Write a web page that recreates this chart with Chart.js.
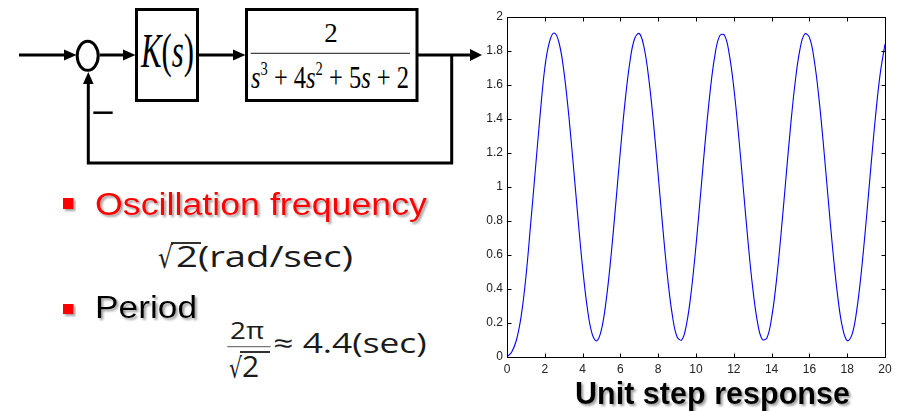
<!DOCTYPE html>
<html>
<head>
<meta charset="utf-8">
<script src="https://cdn.jsdelivr.net/npm/chart.js@4.4.0/dist/chart.umd.min.js"></script>
<style>
  html, body { margin: 0; padding: 0; background: #fff; }
  #slide { position: relative; width: 899px; height: 411px; overflow: hidden; background: #fff; }
  #art { position: absolute; left: 0; top: 0; }
  #plotBox { position: absolute; left: 470px; top: 0; width: 429px; height: 411px; }
</style>
</head>
<body>
<div id="slide">
  <svg id="art" width="899" height="411" xmlns="http://www.w3.org/2000/svg">
    <defs>
      <filter id="shadow" x="-10%" y="-20%" width="130%" height="160%">
        <feDropShadow dx="2" dy="2" stdDeviation="1" flood-color="#777" flood-opacity="0.7"/>
      </filter>
    </defs>

    <!-- block diagram -->
    <g stroke="#000" stroke-width="3" fill="none">
      <line x1="19" y1="55" x2="66" y2="55"/>
      <ellipse cx="87.7" cy="55.8" rx="10.5" ry="14.5"/>
      <line x1="99.7" y1="55" x2="124" y2="55"/>
      <rect x="136.5" y="9.5" width="61" height="91"/>
      <line x1="199" y1="55" x2="234" y2="55"/>
      <rect x="246.5" y="9.5" width="170.5" height="91"/>
      <line x1="418" y1="55" x2="472" y2="55"/>
      <polyline points="451.7,55 451.7,163 88.3,163 88.3,83"/>
    </g>
    <g fill="#000">
      <polygon points="64,49.5 76.5,55 64,60.5"/>
      <polygon points="123,49.5 135.5,55 123,60.5"/>
      <polygon points="233,49.5 245.5,55 233,60.5"/>
      <polygon points="470,49 482,55 470,61"/>
      <polygon points="83,84 88.3,72 93.6,84"/>
    </g>
    <line x1="93.3" y1="112.7" x2="112.7" y2="112.7" stroke="#000" stroke-width="2.5"/>

    <text x="141" y="67" font-family="Liberation Serif" font-size="48" textLength="53" lengthAdjust="spacingAndGlyphs" fill="#000"><tspan font-style="italic">K</tspan>(<tspan font-style="italic">s</tspan>)</text>
    <text x="331" y="41.7" font-family="Liberation Serif" font-size="27" text-anchor="middle" fill="#000">2</text>
    <line x1="250.7" y1="53.3" x2="410" y2="53.3" stroke="#444" stroke-width="1.3"/>
    <text x="251" y="88.3" font-family="Liberation Serif" font-size="32" textLength="158" lengthAdjust="spacingAndGlyphs" fill="#000"><tspan font-style="italic">s</tspan><tspan font-size="19" dy="-13">3</tspan><tspan dy="13"> + 4</tspan><tspan font-style="italic">s</tspan><tspan font-size="19" dy="-13">2</tspan><tspan dy="13"> + 5</tspan><tspan font-style="italic">s</tspan> + 2</text>

    <!-- bullets -->
    <rect x="63" y="198" width="10.5" height="11" fill="#f00" filter="url(#shadow)"/>
    <text x="95" y="215" font-family="Liberation Sans" font-size="31" textLength="332" lengthAdjust="spacingAndGlyphs" fill="#f00" filter="url(#shadow)">Oscillation frequency</text>
    <rect x="63" y="304" width="10.5" height="10" fill="#f00" filter="url(#shadow)"/>
    <text x="95" y="318.3" font-family="Liberation Sans" font-size="31" textLength="102" lengthAdjust="spacingAndGlyphs" fill="#000" filter="url(#shadow)">Period</text>

    <!-- math -->
    <g fill="#1a1a1a" font-family="Open Sans, DejaVu Sans">
      <text x="158" y="268" font-family="DejaVu Sans" font-size="30" textLength="15" lengthAdjust="spacingAndGlyphs">√</text>
      <text x="176" y="266.7" font-size="30" textLength="177" lengthAdjust="spacingAndGlyphs">2(rad/sec)</text>
      <text x="230" y="339.3" font-size="23" textLength="34" lengthAdjust="spacingAndGlyphs">2π</text>
      <text x="229" y="378" font-family="DejaVu Sans" font-size="28" textLength="13" lengthAdjust="spacingAndGlyphs">√</text>
      <text x="242" y="376.7" font-size="30">2</text>
      <text x="273.3" y="353.3" font-size="27" textLength="153.4" lengthAdjust="spacingAndGlyphs">≈ 4.4(sec)</text>
    </g>
    <g stroke="#1a1a1a">
      <line x1="171" y1="243" x2="201" y2="243" stroke-width="1.8"/>
      <line x1="227.3" y1="346.7" x2="270.7" y2="346.7" stroke-width="1" stroke="#555"/>
      <line x1="240" y1="352" x2="270" y2="352" stroke-width="1.8"/>
    </g>

    <!-- chart caption -->
    <text x="575" y="404" font-family="Liberation Sans" font-weight="bold" font-size="31" textLength="275" lengthAdjust="spacingAndGlyphs" fill="#000" filter="url(#shadow)">Unit step response</text>
  </svg>
  <div id="plotBox"><canvas id="stepChart"></canvas></div>
</div>

<script>
// unit step response
var timeSec = [
  0, 0.25, 0.5, 0.75, 1, 1.25, 1.5, 1.75, 2, 2.25,
  2.5, 2.75, 3, 3.25, 3.5, 3.75, 4, 4.25, 4.5, 4.75,
  5, 5.25, 5.5, 5.75, 6, 6.25, 6.5, 6.75, 7, 7.25,
  7.5, 7.75, 8, 8.25, 8.5, 8.75, 9, 9.25, 9.5, 9.75,
  10, 10.25, 10.5, 10.75, 11, 11.25, 11.5, 11.75, 12, 12.25,
  12.5, 12.75, 13, 13.25, 13.5, 13.75, 14, 14.25, 14.5, 14.75,
  15, 15.25, 15.5, 15.75, 16, 16.25, 16.5, 16.75, 17, 17.25,
  17.5, 17.75, 18, 18.25, 18.5, 18.75, 19, 19.25, 19.5, 19.75,
  20
];
var stepResponse = [
  0, 0.03, 0.10, 0.24, 0.47, 0.78, 1.10, 1.42, 1.70, 1.855,
  1.906, 1.850, 1.689, 1.442, 1.141, 0.823, 0.526, 0.288, 0.138, 0.095,
  0.163, 0.336, 0.590, 0.895, 1.213, 1.505, 1.734, 1.872, 1.903, 1.822,
  1.639, 1.377, 1.069, 0.752, 0.465, 0.245, 0.118, 0.101, 0.194, 0.387,
  0.656, 0.968, 1.283, 1.564, 1.774, 1.889, 1.894, 1.788, 1.585, 1.309,
  0.996, 0.682, 0.408, 0.207, 0.104, 0.112, 0.230, 0.443, 0.725, 1.041,
  1.352, 1.619, 1.810, 1.900, 1.880, 1.750, 1.527, 1.240, 0.922, 0.615,
  0.355, 0.174, 0.096, 0.130, 0.271, 0.503, 0.796, 1.114, 1.418, 1.670,
  1.840
];
var xTicks = [0, 2, 4, 6, 8, 10, 12, 14, 16, 18, 20];
var xTickLabels = ['0', '2', '4', '6', '8', '10', '12', '14', '16', '18', '20'];
var yTicks = [0, 0.2, 0.4, 0.6, 0.8, 1, 1.2, 1.4, 1.6, 1.8, 2];
var yTickLabels = ['0', '0.2', '0.4', '0.6', '0.8', '1', '1.2', '1.4', '1.6', '1.8', '2'];

// matlab style box with inward ticks
var matlabBox = {
    id: 'matlabBox',
    afterDraw: function(chart){
        var ctx = chart.ctx;
        var a = chart.chartArea;
        var xs = chart.scales.x;
        var ys = chart.scales.y;
        var L = Math.round(a.left) + 0.5, R = Math.round(a.right) + 0.5;
        var T = Math.round(a.top) + 0.5, B = Math.round(a.bottom) + 0.5;
        ctx.save();
        ctx.strokeStyle = '#000';
        ctx.lineWidth = 1;
        ctx.beginPath();
        xTicks.forEach(function(v){
            var p = Math.round(xs.getPixelForValue(v)) + 0.5;
            ctx.moveTo(p, B); ctx.lineTo(p, B - 4);
            ctx.moveTo(p, T); ctx.lineTo(p, T + 4);
        });
        yTicks.forEach(function(v){
            var p = Math.round(ys.getPixelForValue(v)) + 0.5;
            ctx.moveTo(L, p); ctx.lineTo(L + 4, p);
            ctx.moveTo(R, p); ctx.lineTo(R - 4, p);
        });
        ctx.stroke();
        ctx.strokeRect(L, T, R - L, B - T);
        ctx.restore();
    }
};

var ctx = document.getElementById('stepChart');

var config = {
    type: 'line',
    data: {
        datasets: [
            {
                label: 'step',
                data: timeSec.map(function(t, i){ return {x: t, y: stepResponse[i]}; }),
                borderColor: '#0000ff',
                borderWidth: 1.1,
                pointRadius: 0,
                tension: 0.4,
                fill: false
            }
        ]
    },
    options: {
        responsive: true,
        maintainAspectRatio: false,
        animation: false,
        events: [],
        layout: {
            padding: { top: 17, right: 14, bottom: 34, left: 0 }
        },
        plugins: {
            legend: { display: false },
            tooltip: { enabled: false }
        },
        scales: {
            x: {
                type: 'linear',
                min: 0,
                max: 20,
                grid: { display: false, drawTicks: false },
                border: { display: false },
                afterBuildTicks: function(scale){
                    scale.ticks = xTicks.map(function(v){ return {value: v}; });
                },
                afterFit: function(scale){ scale.height = 20; },
                ticks: {
                    autoSkip: false,
                    maxRotation: 0,
                    padding: 5,
                    color: '#222',
                    font: { family: 'Liberation Sans', size: 12 },
                    callback: function(value, index){ return xTickLabels[index]; }
                }
            },
            y: {
                type: 'linear',
                min: 0,
                max: 2,
                grid: { display: false, drawTicks: false },
                border: { display: false },
                afterBuildTicks: function(scale){
                    scale.ticks = yTicks.map(function(v){ return {value: v}; });
                },
                afterFit: function(scale){ scale.width = 37; },
                ticks: {
                    autoSkip: false,
                    padding: 4,
                    color: '#222',
                    font: { family: 'Liberation Sans', size: 12 },
                    callback: function(value, index){ return yTickLabels[index]; }
                }
            }
        }
    },
    plugins: [matlabBox]
};
new Chart(ctx, config);
</script>
</body>
</html>
